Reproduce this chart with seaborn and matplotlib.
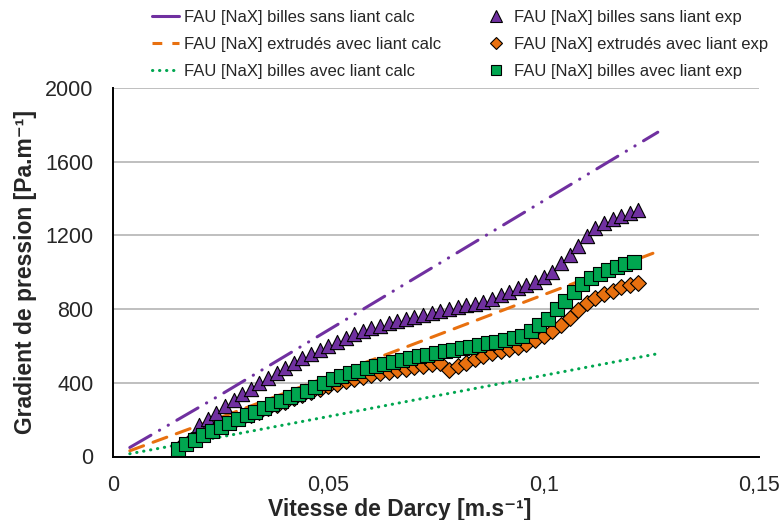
import numpy as np
import pandas as pd
import matplotlib
matplotlib.use("Agg")
import matplotlib.pyplot as plt
from matplotlib import font_manager
from matplotlib.lines import Line2D
import seaborn as sns

# couleurs des series
violet = "#7030A0"
orange = "#E8700F"
vert = "#00A650"

# droites calculees (Ergun)
x_calc = [0.0039, 0.025, 0.05, 0.075, 0.1, 0.1265]
sans_liant_calc = [49, 335, 686, 1037, 1388, 1760]
extrudes_calc = [31, 212, 434, 656, 878, 1113]
billes_liant_calc = [15, 106, 217, 329, 440, 558]

# points experimentaux
x_sans_liant = [0.020, 0.022, 0.024, 0.026, 0.028, 0.030, 0.032, 0.034, 0.036, 0.038,
                0.040, 0.042, 0.044, 0.046, 0.048, 0.050, 0.052, 0.054, 0.056, 0.058,
                0.060, 0.062, 0.064, 0.066, 0.068, 0.070, 0.072, 0.074, 0.076, 0.078,
                0.080, 0.082, 0.084, 0.086, 0.088, 0.090, 0.092, 0.094, 0.096, 0.098,
                0.100, 0.102, 0.104, 0.106, 0.108, 0.110, 0.112, 0.114, 0.116, 0.118,
                0.120, 0.122]
sans_liant_exp = [172, 205, 238, 272, 305, 337, 368, 398, 428, 455,
                  482, 508, 532, 555, 577, 600, 622, 644, 664, 680,
                  695, 709, 722, 734, 746, 757, 768, 779, 790, 800,
                  810, 820, 830, 840, 856, 876, 895, 912, 930, 948,
                  972, 1000, 1048, 1095, 1140, 1198, 1238, 1265, 1290, 1308,
                  1322, 1340]

x_extrudes = [0.016, 0.018, 0.020, 0.022, 0.024, 0.026, 0.028, 0.030, 0.032, 0.034,
              0.036, 0.038, 0.040, 0.042, 0.044, 0.046, 0.048, 0.050, 0.052, 0.054,
              0.056, 0.058, 0.060, 0.062, 0.064, 0.066, 0.068, 0.070, 0.072, 0.074,
              0.076, 0.078, 0.080, 0.082, 0.084, 0.086, 0.088, 0.090, 0.092, 0.094,
              0.096, 0.098, 0.100, 0.102, 0.104, 0.106, 0.108, 0.110, 0.112, 0.114,
              0.116, 0.118, 0.120, 0.122]
extrudes_exp = [60, 88, 112, 132, 152, 172, 190, 208, 226, 244,
                262, 280, 298, 315, 332, 348, 365, 380, 394, 408,
                421, 432, 442, 451, 460, 468, 476, 484, 492, 500,
                505, 472, 490, 510, 528, 545, 560, 572, 584, 596,
                610, 630, 652, 680, 715, 752, 795, 832, 860, 880,
                900, 918, 932, 942]

x_billes_liant = [0.015, 0.017, 0.019, 0.021, 0.023, 0.025, 0.027, 0.029, 0.031, 0.033,
                  0.035, 0.037, 0.039, 0.041, 0.043, 0.045, 0.047, 0.049, 0.051, 0.053,
                  0.055, 0.057, 0.059, 0.061, 0.063, 0.065, 0.067, 0.069, 0.071, 0.073,
                  0.075, 0.077, 0.079, 0.081, 0.083, 0.085, 0.087, 0.089, 0.091, 0.093,
                  0.095, 0.097, 0.099, 0.101, 0.103, 0.105, 0.107, 0.109, 0.111, 0.113,
                  0.115, 0.117, 0.119, 0.121]
billes_liant_exp = [42, 68, 92, 116, 138, 160, 182, 203, 224, 244,
                    264, 284, 303, 322, 340, 358, 376, 397, 418, 437,
                    452, 466, 478, 490, 502, 514, 524, 534, 544, 553,
                    562, 571, 580, 589, 597, 605, 614, 624, 633, 643,
                    655, 680, 712, 745, 800, 845, 895, 935, 968, 992,
                    1012, 1030, 1045, 1058]

labels_calc = ["FAU [NaX] billes sans liant calc",
               "FAU [NaX] extrudés avec liant calc",
               "FAU [NaX] billes avec liant calc"]
labels_exp = ["FAU [NaX] billes sans liant exp",
              "FAU [NaX] extrudés avec liant exp",
              "FAU [NaX] billes avec liant exp"]

sns.set_style("white")
plt.rcParams['font.family'] = ['Liberation Sans', 'DejaVu Sans']

# police etroite pour les titres d'axes si elle existe
try:
    font_manager.findfont('Liberation Sans Narrow', fallback_to_default=False)
    narrow, lab_size = 'Liberation Sans Narrow', 18
except ValueError:
    narrow, lab_size = 'Liberation Sans', 16.5

fig = plt.figure(figsize=(7.81, 5.20), dpi=100)
ax = fig.add_axes([113/781, 1 - 456.5/520, (759 - 113)/781, (456.5 - 88)/520])

calc = pd.DataFrame({"x": x_calc, "a": sans_liant_calc, "b": extrudes_calc, "c": billes_liant_calc})

# lignes calculees
l1 = sns.lineplot(data=calc, x="x", y="a", ax=ax, color=violet, lw=2.2).lines[-1]
l1.set_dashes([8, 3.2, 0.1, 3.2, 0.1, 3.2])
l1.set_dash_capstyle("round")
l2 = sns.lineplot(data=calc, x="x", y="b", ax=ax, color=orange, lw=2.2).lines[-1]
l2.set_dashes([4.8, 3.3])
l2.set_dash_capstyle("round")
l3 = sns.lineplot(data=calc, x="x", y="c", ax=ax, color=vert, lw=2.2).lines[-1]
l3.set_dashes([0.1, 2.2])
l3.set_dash_capstyle("round")

# points experimentaux
sns.scatterplot(x=x_sans_liant, y=sans_liant_exp, ax=ax, marker="^", s=105,
                color=violet, edgecolor="black", linewidth=0.8, zorder=3)
sns.scatterplot(x=x_extrudes, y=extrudes_exp, ax=ax, marker="D", s=65,
                color=orange, edgecolor="black", linewidth=0.8, zorder=3)
sns.scatterplot(x=x_billes_liant, y=billes_liant_exp, ax=ax, marker="s", s=90,
                color=vert, edgecolor="black", linewidth=0.8, zorder=4)

ax.set_xlim(0, 0.15)
ax.set_ylim(0, 2000)
ax.set_xticks([0, 0.05, 0.1, 0.15])
ax.set_xticklabels(["0", "0,05", "0,1", "0,15"])
ax.set_yticks([0, 400, 800, 1200, 1600, 2000])
ax.tick_params(axis="both", labelsize=15.5, direction="out", length=6, width=1.3, color="black")
ax.tick_params(axis="x", pad=7)
ax.tick_params(axis="y", pad=8)
ax.yaxis.grid(True, color="#B4B4B4", lw=1.2)
ax.xaxis.grid(False)
for s in ["top", "right"]:
    ax.spines[s].set_visible(False)
for s in ["left", "bottom"]:
    ax.spines[s].set_color("black")
    ax.spines[s].set_linewidth(1.4)

lab_font = dict(family=[narrow, 'DejaVu Sans'], weight="bold", size=lab_size)
ax.set_xlabel("Vitesse de Darcy [m.s⁻¹]", fontdict=lab_font, labelpad=2, x=0.444)
ax.set_ylabel("Gradient de pression [Pa.m⁻¹]", fontdict=lab_font, labelpad=6)

# legende : le violet est dessine plein dans la legende
handles = [
    Line2D([], [], color=violet, lw=2.2),
    Line2D([], [], color=orange, lw=2.2, dashes=[3.2, 3.3]),
    Line2D([], [], color=vert, lw=2.2, dashes=[0.1, 2.2], dash_capstyle="round"),
    Line2D([], [], ls="", marker="^", ms=8, mfc=violet, mec="black", mew=0.8),
    Line2D([], [], ls="", marker="D", ms=6, mfc=orange, mec="black", mew=0.8),
    Line2D([], [], ls="", marker="s", ms=7, mfc=vert, mec="black", mew=0.8),
]
fig.legend(handles, labels_calc + labels_exp, ncol=2, loc="upper left",
           bbox_to_anchor=(152/781, 1 - 10/520), frameon=False, fontsize=12,
           handlelength=1.6, handletextpad=0.3, columnspacing=2.5,
           labelspacing=0.72, borderpad=0, borderaxespad=0)

fig.savefig("out.png", dpi=100)
